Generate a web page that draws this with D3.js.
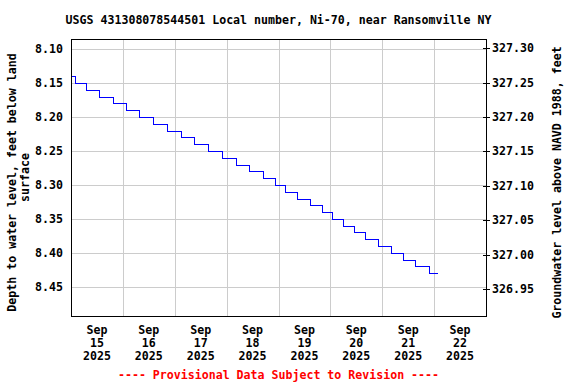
<!DOCTYPE html>
<html>
<head>
<meta charset="utf-8">
<script src="https://cdn.jsdelivr.net/npm/d3@7"></script>
<style>
  body { margin: 0; background: #fff; }
  text { font-family: "DejaVu Sans Mono", monospace; font-weight: bold; font-size: 11.6px; }
</style>
</head>
<body>
<svg id="chart" width="576" height="384"></svg>
<script>
// step changes in depth to water (time the reading changed, new value)
const stepTimes = [
  "2025-09-15 00:00", "2025-09-15 02:00", "2025-09-15 07:00", "2025-09-15 13:00",
  "2025-09-15 19:30", "2025-09-16 01:30", "2025-09-16 07:15", "2025-09-16 14:00",
  "2025-09-16 20:30", "2025-09-17 02:45", "2025-09-17 08:45", "2025-09-17 15:15",
  "2025-09-17 21:45", "2025-09-18 04:15", "2025-09-18 10:30", "2025-09-18 16:45",
  "2025-09-18 22:15", "2025-09-19 03:00", "2025-09-19 08:30", "2025-09-19 14:30",
  "2025-09-19 20:00", "2025-09-20 00:45", "2025-09-20 06:00", "2025-09-20 10:45",
  "2025-09-20 16:00", "2025-09-20 22:00", "2025-09-21 04:15", "2025-09-21 09:30",
  "2025-09-21 15:00", "2025-09-21 21:30", "2025-09-22 01:15"
];
const depthValues = [
  8.14, 8.15, 8.16, 8.17, 8.18, 8.19, 8.20, 8.21, 8.22, 8.23,
  8.24, 8.25, 8.26, 8.27, 8.28, 8.29, 8.30, 8.31, 8.32, 8.33,
  8.34, 8.35, 8.36, 8.37, 8.38, 8.39, 8.40, 8.41, 8.42, 8.43, 8.43
];
const leftTicks = [8.10, 8.15, 8.20, 8.25, 8.30, 8.35, 8.40, 8.45];
const rightTicks = [327.30, 327.25, 327.20, 327.15, 327.10, 327.05, 327.00, 326.95];
const dayTicks = ["2025-09-15", "2025-09-16", "2025-09-17", "2025-09-18",
                  "2025-09-19", "2025-09-20", "2025-09-21", "2025-09-22"];

const title = "USGS 431308078544501 Local number, Ni-70, near Ransomville NY";
const leftLabel = ["Depth to water level, feet below land", "surface"];
const rightLabel = "Groundwater level above NAVD 1988, feet";
const footer = "---- Provisional Data Subject to Revision ----";

const margin = {top: 39, right: 90, bottom: 68, left: 71};
const width = 576, height = 384;

const parseT = d3.timeParse("%Y-%m-%d %H:%M");
const parseD = d3.timeParse("%Y-%m-%d");
const data = stepTimes.map((t, i) => ({date: parseT(t), depth: depthValues[i]}));

const x = d3.scaleTime()
  .domain([parseD("2025-09-15"), parseD("2025-09-23")])
  .range([margin.left, width - margin.right]);
const y = d3.scaleLinear([8.085, 8.493], [margin.top, height - margin.bottom]);
const yR = d3.scaleLinear([327.3135, 326.9107], [margin.top, height - margin.bottom]);

const svg = d3.select("#chart");

// grid
const grid = svg.append("g")
  .attr("stroke", "#cccccc")
  .attr("shape-rendering", "crispEdges");
grid.selectAll("line.h")
  .data(leftTicks)
  .join("line")
    .attr("x1", margin.left).attr("x2", width - margin.right)
    .attr("y1", d => Math.round(y(d)) + 0.5).attr("y2", d => Math.round(y(d)) + 0.5);
grid.selectAll("line.v")
  .data(dayTicks.slice(1))
  .join("line")
    .attr("x1", d => Math.round(x(parseD(d))) + 0.5).attr("x2", d => Math.round(x(parseD(d))) + 0.5)
    .attr("y1", margin.top).attr("y2", height - margin.bottom);

// water level line
svg.append("path")
  .datum(data)
  .attr("fill", "none")
  .attr("stroke", "#0000ff")
  .attr("stroke-width", 1)
  .attr("shape-rendering", "crispEdges")
  .attr("d", d3.line()
    .x(d => Math.round(x(d.date)) + 0.5)
    .y(d => Math.round(y(d.depth)) + 0.5)
    .curve(d3.curveStepAfter));

// plot frame
svg.append("rect")
  .attr("x", margin.left + 0.5).attr("y", margin.top + 0.5)
  .attr("width", width - margin.right - margin.left)
  .attr("height", height - margin.bottom - margin.top)
  .attr("fill", "none").attr("stroke", "#000")
  .attr("shape-rendering", "crispEdges");

// left axis labels
svg.append("g")
  .selectAll("text")
  .data(leftTicks)
  .join("text")
    .attr("x", margin.left - 8)
    .attr("y", d => y(d) + 4)
    .attr("text-anchor", "end")
    .text(d => d.toFixed(2));

// right axis ticks + labels
const right = svg.append("g");
right.selectAll("line")
  .data(rightTicks)
  .join("line")
    .attr("x1", width - margin.right - 3).attr("x2", width - margin.right + 4)
    .attr("y1", d => Math.round(yR(d)) + 0.5).attr("y2", d => Math.round(yR(d)) + 0.5)
    .attr("stroke", "#000")
    .attr("shape-rendering", "crispEdges");
right.selectAll("text")
  .data(rightTicks)
  .join("text")
    .attr("x", width - margin.right + 6)
    .attr("y", d => yR(d) + 4)
    .text(d => d.toFixed(2));

// bottom date labels, centred on each day
const fmtMon = d3.timeFormat("%b"), fmtDay = d3.timeFormat("%d"), fmtYr = d3.timeFormat("%Y");
const xl = svg.append("g")
  .selectAll("text")
  .data(dayTicks.map(parseD))
  .join("text")
    .attr("text-anchor", "middle")
    .attr("transform", d => `translate(${x(d3.timeHour.offset(d, 12))},0)`);
xl.append("tspan").attr("x", 0).attr("y", 334).text(fmtMon);
xl.append("tspan").attr("x", 0).attr("y", 347).text(fmtDay);
xl.append("tspan").attr("x", 0).attr("y", 360).text(fmtYr);

// title
const cx = (margin.left + width - margin.right) / 2;
svg.append("text")
  .attr("x", cx).attr("y", 24)
  .attr("text-anchor", "middle")
  .text(title);

// footer
svg.append("text")
  .attr("x", cx).attr("y", 379)
  .attr("text-anchor", "middle")
  .attr("fill", "#ff0000")
  .text(footer);

// axis titles
const midY = (margin.top + height - margin.bottom) / 2;
svg.append("text")
  .attr("transform", `translate(16,${midY + 5}) rotate(-90)`)
  .attr("text-anchor", "middle")
  .text(leftLabel[0]);
svg.append("text")
  .attr("transform", `translate(29,${midY}) rotate(-90)`)
  .attr("text-anchor", "middle")
  .text(leftLabel[1]);
svg.append("text")
  .attr("transform", `translate(561,${midY + 5}) rotate(-90)`)
  .attr("text-anchor", "middle")
  .text(rightLabel);
</script>
</body>
</html>
